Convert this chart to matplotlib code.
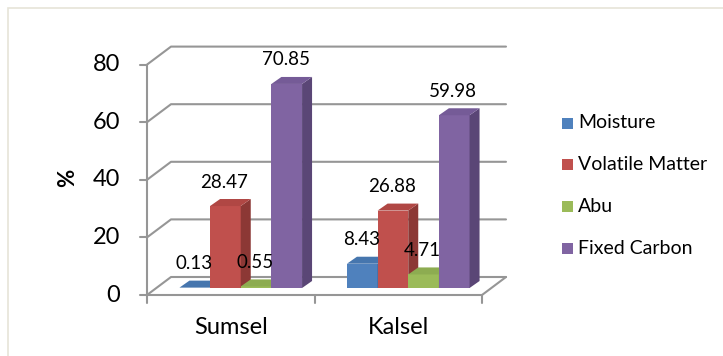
import matplotlib.pyplot as plt
from matplotlib.patches import Polygon, Rectangle
from matplotlib.lines import Line2D
import numpy as np

plt.rcParams['font.family'] = ['Lato', 'DejaVu Sans']

regions = ["Sumsel", "Kalsel"]
components = ["Moisture", "Volatile Matter", "Abu", "Fixed Carbon"]
moisture = [0.13, 8.43]
volatile_matter = [28.47, 26.88]
abu = [0.55, 4.71]
fixed_carbon = [70.85, 59.98]
y_ticks = [0, 20, 40, 60, 80]

front_colors = ["#4F81BD", "#C0504D", "#9BBB59", "#8064A2"]
side_colors = ["#3A6090", "#8C3835", "#718A40", "#5A4676"]
top_colors = ["#4676AE", "#B04744", "#8DAC51", "#755B97"]

W, H = 723, 356
fig = plt.figure(figsize=(W / 100, H / 100), dpi=100)
fig.patch.set_facecolor('white')

# chart frame (only the top and left edges fall inside the image)
fig.add_artist(Rectangle((8 / W, -0.1), 1.2, 1 - 8 / H + 0.1, transform=fig.transFigure,
                         fill=False, edgecolor='#E6E4D8', lw=1.2))

ax = fig.add_axes([157 / W, (H - 288) / H, 335 / W, 230.4 / H])
ax.set_xlim(-0.5, 1.5)
ax.set_ylim(0, 80)
ax.axis('off')

# pixel offsets of the front edge, back wall and bar depth relative to the bar plane
FRONT = (-10, -7)
BACK = (14, 11)
BAR_DEPTH = (10, 7)
inv = fig.transFigure.inverted()


def to_fig(x, v, off=(0, 0)):
    px, py = ax.transData.transform((x, v))
    return inv.transform((px + off[0], py + off[1]))


def add_line(points, **kw):
    pts = np.array(points)
    ax.add_line(Line2D(pts[:, 0], pts[:, 1], transform=fig.transFigure, clip_on=False, **kw))


grid_kw = dict(color='#969696', lw=1.5, solid_capstyle='round', zorder=1)

# side wall + back wall gridlines
for v in y_ticks:
    add_line([to_fig(-0.5, v, FRONT), to_fig(-0.5, v, BACK), to_fig(1.5, v, BACK)], **grid_kw)

# floor front edge, right edge and vertical axis
add_line([to_fig(-0.5, 0, FRONT), to_fig(1.5, 0, FRONT), to_fig(1.5, 0, BACK)], **grid_kw)
add_line([to_fig(-0.5, 0, FRONT), to_fig(-0.5, 80, FRONT)], **grid_kw)

for v in y_ticks:
    x0, y0 = FRONT
    add_line([to_fig(-0.5, v, (x0 - 7, y0)), to_fig(-0.5, v, FRONT)], **grid_kw)
    ax.text(*to_fig(-0.5, v, (x0 - 27, y0)), str(v), transform=fig.transFigure,
            ha='right', va='center', fontsize=17, color='black')

for c in [-0.5, 0.5, 1.5]:
    x0, y0 = FRONT
    add_line([to_fig(c, 0, FRONT), to_fig(c, 0, (x0, y0 - 8))], **grid_kw)

for i, name in enumerate(regions):
    ax.text(*to_fig(i, 0, (FRONT[0], FRONT[1] - 33)), name, transform=fig.transFigure,
            ha='center', va='center', fontsize=17, color='black')

fig.text(68 / W, 1 - 178 / H, "%", rotation=90, ha='center', va='center',
         fontsize=16, fontweight='bold')

# bars, drawn left to right so each front face hides the previous side face
w = 0.183
series = [moisture, volatile_matter, abu, fixed_carbon]
x = np.arange(len(regions))
for k, vals in enumerate(series):
    xs = x + (k - 1.5) * w
    ax.bar(xs, vals, w, color=front_colors[k], zorder=2 + k, clip_on=False)
    for xc, v in zip(xs, vals):
        l, r = xc - w / 2, xc + w / 2
        side = [to_fig(r, 0), to_fig(r, v), to_fig(r, v, BAR_DEPTH), to_fig(r, 0, BAR_DEPTH)]
        top = [to_fig(l, v), to_fig(r, v), to_fig(r, v, BAR_DEPTH), to_fig(l, v, BAR_DEPTH)]
        ax.add_patch(Polygon(side, closed=True, transform=fig.transFigure, clip_on=False,
                             facecolor=side_colors[k], edgecolor='none', zorder=2.5 + k))
        ax.add_patch(Polygon(top, closed=True, transform=fig.transFigure, clip_on=False,
                             facecolor=top_colors[k], edgecolor='none', zorder=2.5 + k))
        ax.text(*to_fig(xc, v, (-1, 24)), f"{v:.2f}", transform=fig.transFigure,
                ha='center', va='center', fontsize=13.5, color='black', zorder=10)

ax.set_xlim(-0.5, 1.5)
ax.set_ylim(0, 80)

# legend
for i, (name, col) in enumerate(zip(components, front_colors)):
    yc = 123 + 41.7 * i
    fig.add_artist(Rectangle((562 / W, 1 - (yc + 5.5) / H), 11 / W, 11 / H,
                             transform=fig.transFigure, facecolor=col, edgecolor='none'))
    fig.text(578 / W, 1 - yc / H, name, ha='left', va='center', fontsize=14)

fig.savefig("out.png", dpi=100)
